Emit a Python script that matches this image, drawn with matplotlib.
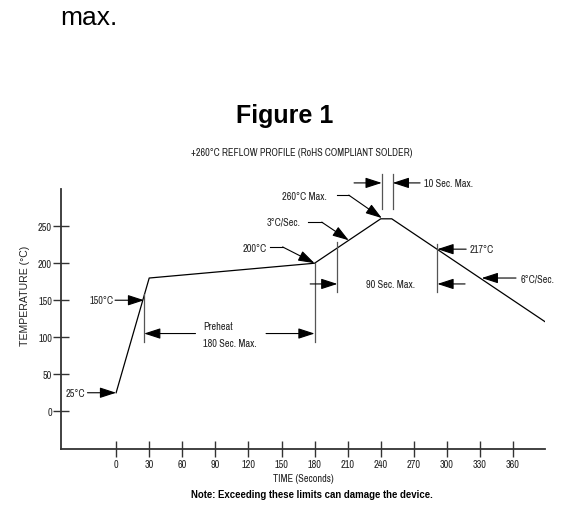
import matplotlib
matplotlib.use("Agg")
import matplotlib.pyplot as plt

# reflow profile
time_s = [0, 30, 180, 240, 250, 392]
temp_c = [25, 180, 200, 260, 260, 118]
xticks = [0, 30, 60, 90, 120, 150, 180, 210, 240, 270, 300, 330, 360]
yticks = [0, 50, 100, 150, 200, 250]

plt.rcParams['font.family'] = ['Liberation Sans', 'DejaVu Sans']
narrow = ['Archivo Narrow', 'Roboto Condensed', 'DejaVu Sans']
fs = 7.4

fig = plt.figure(figsize=(5.66, 5.10), dpi=100)
ax = fig.add_axes([61/566, 1-450/510, (545-61)/566, (450-168)/510])
ax.set_xlim(-50, 389)
ax.set_ylim(-51, 330)

ax.plot(time_s, temp_c, color='k', lw=0.9)

for s in ['top', 'right']:
    ax.spines[s].set_visible(False)
for s in ['left', 'bottom']:
    ax.spines[s].set_color('#333333')
    ax.spines[s].set_linewidth(1.3)
ax.spines['left'].set_bounds(-51, 300)
ax.set_xticks(xticks)
ax.set_yticks(yticks)
ax.tick_params(direction='inout', length=11, width=1.0, color='#333333')
ax.tick_params(axis='x', pad=2)
ax.tick_params(axis='y', pad=1)
for lab in ax.get_xticklabels() + ax.get_yticklabels():
    lab.set_family(narrow)
    lab.set_fontsize(fs)
    lab.set_color('#222222')

tfont = dict(family=narrow, fontsize=fs, color='#222222')
aprops = dict(arrowstyle='-|>,head_length=0.4,head_width=0.13', mutation_scale=25,
              color='k', lw=0.8, shrinkA=0, shrinkB=0)
gray = '#555555'


def arrow(x0, y0, x1, y1):
    ax.annotate('', xy=(x1, y1), xytext=(x0, y0), arrowprops=aprops,
                annotation_clip=False)


# 25 and 150 labels
arrow(-26, 25, 0, 25)
ax.text(-28.5, 25, '25°C', ha='right', va='center', **tfont)
arrow(-1, 150, 25.4, 150)
ax.text(-2.5, 150, '150°C', ha='right', va='center', **tfont)

# preheat window
ax.plot([25.4, 25.4], [158, 94], color=gray, lw=0.9)
ax.plot([180, 180], [200, 94], color=gray, lw=0.9)
arrow(72, 105, 25.4, 105)
arrow(136, 105, 180, 105)
ax.text(79, 115, 'Preheat', ha='left', va='center', **tfont)
ax.text(79, 92, '180 Sec. Max.', ha='left', va='center', **tfont)

# leader labels on the ramp
ax.text(137, 220, '200°C', ha='right', va='center', **tfont)
ax.plot([140, 151], [222, 222], color='k', lw=0.8)
arrow(151, 222, 180, 200)

ax.text(167, 257, '3°C/Sec.', ha='right', va='center', **tfont)
ax.plot([174, 186.5], [255.5, 255.5], color='k', lw=0.8)
arrow(186.5, 255.5, 211, 231)

ax.text(191, 291, '260°C Max.', ha='right', va='center', **tfont)
ax.plot([200, 211], [292, 292], color='k', lw=0.8)
arrow(211, 292, 241, 261)

# time above liquidus
ax.plot([200.7, 200.7], [228, 161], color=gray, lw=0.9)
ax.plot([291.4, 291.4], [226, 161], color=gray, lw=0.9)
arrow(176, 172, 200.7, 172)
arrow(316.5, 172, 291.4, 172)
ax.text(248.5, 172, '90 Sec. Max.', ha='center', va='center', **tfont)

arrow(317.5, 219, 291.4, 219)
ax.text(321, 219, '217°C', ha='left', va='center', **tfont)
arrow(362.7, 180, 331.6, 180)
ax.text(367, 180, '6°C/Sec.', ha='left', va='center', **tfont)

# peak dwell
ax.plot([240.9, 240.9], [321, 273], color=gray, lw=0.9)
ax.plot([250.9, 250.9], [321, 273], color=gray, lw=0.9)
arrow(215.8, 308.5, 240.9, 308.5)
arrow(275.7, 308.5, 250.9, 308.5)
ax.text(279.3, 308.5, '10 Sec. Max.', ha='left', va='center', **tfont)

# figure texts
fig.text(60/566, 1-25/510, 'max.', ha='left', va='baseline', fontsize=19)
fig.text(285/566, 1-123/510, 'Figure 1', ha='center', va='baseline',
         fontsize=18, fontweight='bold')
fig.text(302/566, 1-156/510, '+260°C REFLOW PROFILE (RoHS COMPLIANT SOLDER)',
         ha='center', va='baseline', family=narrow, fontsize=7.3, color='#222222')
fig.text(25/566, 1-296/510, 'TEMPERATURE (°C)', rotation=90, ha='center', va='center',
         fontsize=7.6, color='#222222')
fig.text(303/566, 1-479/510, 'TIME (Seconds)', ha='center', va='center',
         family=narrow, fontsize=fs, color='#222222')
fig.text(311.7/566, 1-495/510, 'Note: Exceeding these limits can damage the device.',
         ha='center', va='center', fontsize=6.9, fontweight='bold')

fig.savefig('out.png', dpi=100)
